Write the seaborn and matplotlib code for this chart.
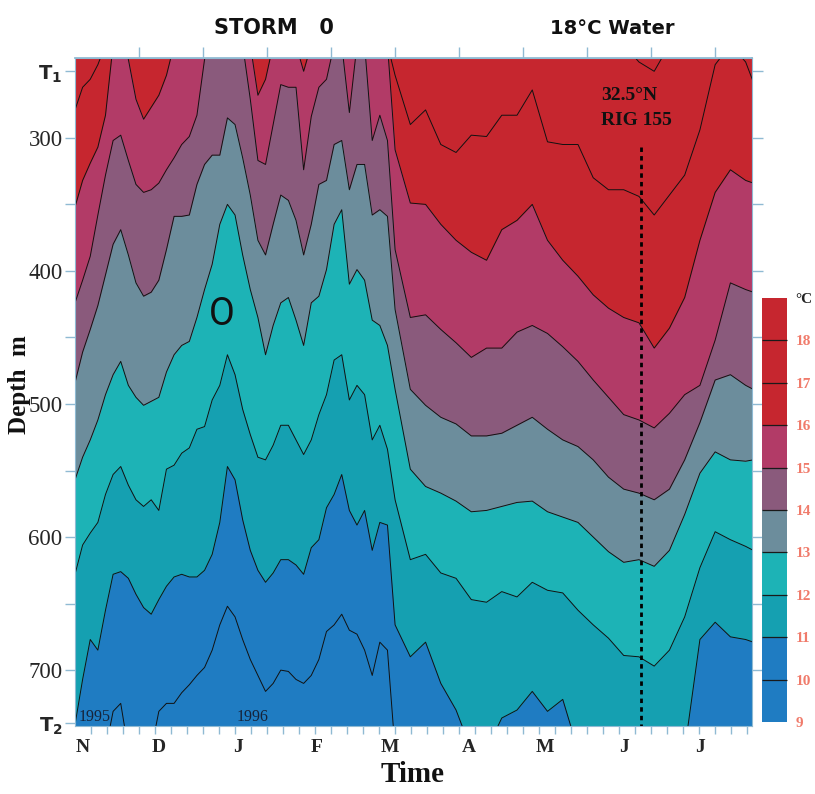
import numpy as np
import pandas as pd
import matplotlib
matplotlib.use("Agg")
import matplotlib.pyplot as plt
import seaborn as sns
from matplotlib.colors import ListedColormap, BoundaryNorm
from matplotlib.cm import ScalarMappable

# ---------------- data ----------------
# time: days after 29 Oct 1995 ; depth of each isotherm in metres
# (230 = isotherm above the plotted range, 760 = below the plotted range)
days = [0, 3, 6, 9, 12, 15, 18, 21, 24, 27, 30, 33, 36, 39, 42, 45, 48, 51,
        54, 57, 60, 63, 66, 69, 72, 75, 78, 81, 84, 87, 90, 93, 96, 99, 102,
        105, 108, 111, 114, 117, 120, 123, 126, 132, 138, 144, 150, 156, 162,
        168, 174, 180, 186, 192, 198, 204, 210, 216, 222, 228, 234, 240, 246,
        252, 258, 264, 267]

iso18 = [230, 230, 230, 230, 230, 230, 230, 230, 230, 230, 230, 230, 230, 230,
         230, 230, 230, 230, 230, 230, 230, 230, 230, 230, 230, 230, 230, 230,
         230, 230, 230, 230, 230, 230, 230, 230, 230, 230, 230, 230, 230, 230,
         230, 230, 230, 230, 230, 230, 230, 230, 230, 230, 230, 230, 230, 230,
         230, 230, 243, 250, 230, 230, 230, 230, 230, 230, 230]

iso17 = [279, 262, 256, 245, 230, 230, 230, 230, 230, 230, 230, 230, 230, 230,
         230, 230, 230, 230, 230, 230, 230, 230, 230, 230, 230, 230, 230, 230,
         230, 230, 230, 230, 230, 230, 230, 230, 230, 230, 230, 230, 230, 230,
         253, 290, 279, 305, 311, 298, 299, 283, 283, 264, 303, 305, 305, 330,
         339, 339, 344, 358, 343, 328, 294, 245, 230, 243, 258]

iso16 = [352, 332, 319, 307, 283, 230, 230, 241, 271, 286, 277, 268, 253, 230,
         230, 230, 230, 230, 230, 230, 230, 230, 230, 230, 268, 256, 230, 230,
         230, 230, 250, 230, 230, 230, 230, 230, 230, 230, 230, 230, 230, 230,
         309, 349, 350, 365, 377, 386, 392, 369, 362, 350, 377, 392, 404, 418,
         428, 435, 439, 458, 443, 420, 377, 341, 324, 332, 334]

iso15 = [424, 407, 389, 358, 328, 302, 298, 317, 335, 341, 339, 334, 324, 315,
         305, 299, 283, 241, 230, 230, 230, 230, 230, 271, 317, 320, 290, 260,
         262, 262, 324, 284, 262, 256, 230, 230, 281, 230, 230, 302, 283, 302,
         384, 435, 433, 444, 454, 465, 458, 458, 446, 441, 447, 457, 468, 482,
         495, 508, 512, 518, 507, 493, 486, 452, 409, 414, 416]

iso14 = [484, 461, 444, 426, 403, 380, 369, 388, 409, 419, 416, 407, 384, 359,
         359, 358, 335, 320, 313, 313, 285, 290, 315, 343, 377, 388, 365, 343,
         347, 362, 388, 365, 335, 332, 305, 302, 339, 320, 320, 358, 354, 359,
         429, 489, 501, 510, 515, 524, 524, 522, 516, 510, 519, 527, 532, 542,
         555, 564, 567, 572, 564, 542, 514, 482, 478, 486, 489]

iso13 = [557, 540, 527, 512, 493, 478, 468, 486, 495, 501, 498, 495, 476, 463,
         456, 453, 435, 414, 395, 365, 350, 358, 388, 414, 435, 463, 441, 424,
         420, 437, 456, 424, 419, 399, 365, 354, 410, 399, 407, 437, 441, 456,
         489, 549, 562, 567, 573, 581, 580, 577, 574, 573, 581, 585, 589, 600,
         611, 619, 617, 622, 610, 583, 552, 536, 542, 543, 542]

iso12 = [628, 606, 597, 589, 568, 553, 547, 561, 572, 577, 572, 580, 549, 546,
         537, 533, 519, 517, 497, 486, 463, 478, 504, 523, 540, 542, 531, 516,
         516, 527, 538, 527, 508, 493, 467, 463, 497, 486, 493, 527, 516, 534,
         572, 617, 613, 627, 631, 647, 649, 641, 645, 634, 640, 642, 655, 666,
         676, 689, 690, 697, 685, 660, 623, 596, 602, 607, 610]

iso11 = [741, 707, 677, 685, 655, 628, 626, 631, 643, 653, 658, 647, 637, 630,
         628, 630, 630, 625, 613, 589, 547, 557, 587, 610, 625, 634, 627, 617,
         617, 621, 628, 608, 602, 578, 568, 553, 580, 591, 580, 610, 589, 591,
         666, 690, 679, 710, 730, 760, 760, 736, 730, 716, 731, 722, 760, 760,
         760, 760, 760, 760, 760, 760, 677, 664, 675, 677, 679]

iso10 = [760, 760, 760, 760, 760, 731, 725, 760, 760, 760, 760, 731, 725, 725,
         717, 711, 704, 698, 685, 666, 652, 660, 677, 692, 704, 716, 710, 700,
         701, 707, 710, 704, 692, 671, 666, 658, 670, 673, 685, 704, 679, 685,
         760, 760, 760, 760, 760, 760, 760, 760, 760, 760, 760, 760, 760, 760,
         760, 760, 760, 760, 760, 760, 760, 760, 760, 760, 760]

levels = [9, 10, 11, 12, 13, 14, 15, 16, 17, 18, 19]
band_colors = ["#1f7cc2", "#1f7cc2", "#15a0b1", "#1db3b6", "#6c8d9c",
               "#8a5a7c", "#b23b67", "#c6262f", "#c6262f", "#c6262f"]

month_days = [3, 33, 64, 95, 124, 155, 185, 216, 246]
month_labels = ["N", "D", "J", "F", "M", "A", "M", "J", "J"]
depth_ticks = [250, 300, 400, 500, 600, 700, 740]
depth_labels = [r"$\mathbf{T_1}$", "300", "400", "500", "600", "700", r"$\mathbf{T_2}$"]
rig_day = 222.8

# ---------------- figure ----------------
sns.set_theme(style="white")
plt.rcParams["font.family"] = ["Liberation Serif", "DejaVu Sans"]
plt.rcParams["mathtext.fontset"] = "dejavusans"

fig = plt.figure(figsize=(8.15, 7.94), dpi=100)
fig.patch.set_facecolor("white")
ax = fig.add_axes([75 / 815, 1 - 726 / 794, 677 / 815, 668 / 794])

isos = {10: iso10, 11: iso11, 12: iso12, 13: iso13, 14: iso14,
        15: iso15, 16: iso16, 17: iso17, 18: iso18}

ax.set_facecolor(band_colors[0])
for T, vals in isos.items():
    ax.fill_between(days, 200, vals, color=band_colors[T - 9], lw=0, zorder=1)

rows = [(d, v, T) for T, vals in isos.items() for d, v in zip(days, vals)]
df = pd.DataFrame(rows, columns=["day", "depth", "iso"])
sns.lineplot(data=df, x="day", y="depth", units="iso", estimator=None,
             color="#111111", linewidth=0.7, ax=ax, legend=False, sort=False,
             zorder=2)

ax.set_xlim(0, 266.5)
ax.set_ylim(742, 240)
ax.set_xlabel("")
ax.set_ylabel("")

tick_col = "#8fbad3"
for s in ax.spines.values():
    s.set_color(tick_col)
    s.set_linewidth(0.8)

# y axis
ax.set_yticks(depth_ticks)
ax.set_yticklabels(depth_labels)
ax.set_yticks([350, 450, 550, 650], minor=True)
ax.tick_params(axis="y", which="both", left=True, right=False, direction="out",
               length=7, width=1, color=tick_col, pad=2, labelsize=16.5)
for lbl in ax.get_yticklabels():
    if "T" in lbl.get_text():
        lbl.set_fontsize(14)

# x axis
ax.set_xticks(month_days)
ax.set_xticklabels(month_labels)
ax.set_xticks(np.arange(6.3, 266, 6.3), minor=True)
ax.tick_params(axis="x", which="major", bottom=True, length=0, pad=9,
               labelsize=14)
ax.tick_params(axis="x", which="minor", bottom=True, top=False, direction="out",
               length=6, width=1, color=tick_col)
for lbl in ax.get_xticklabels():
    lbl.set_fontweight("bold")

secx = ax.secondary_xaxis("top")
secx.set_xticks(np.arange(25.2, 266, 25.2))
secx.set_xticklabels([])
secx.tick_params(direction="out", length=8, width=1, color=tick_col)
secx.spines["top"].set_color(tick_col)

secy = ax.secondary_yaxis("right")
secy.set_yticks(np.arange(250, 701, 50))
secy.set_yticklabels([])
secy.tick_params(direction="out", length=8, width=1, color=tick_col)
secy.spines["right"].set_color(tick_col)

# annotations
ax.plot([rig_day, rig_day], [307, 742], color="black", lw=2.0,
        linestyle=(0, (1.6, 1.5)), zorder=4)
ax.text(207, 268, "32.5°N", fontsize=14, fontweight="bold", ha="left",
        va="center", color="#111111", zorder=5)
ax.text(207, 287, "RIG 155", fontsize=14, fontweight="bold", ha="left",
        va="center", color="#111111", zorder=5)
ax.text(57.9, 433, "O", fontsize=27, family="Roboto", ha="center", va="center",
        color="#111111", zorder=5)
ax.text(1.3, 735, "1995", fontsize=11.5, ha="left", va="center",
        color="#16233a", zorder=5)
ax.text(63.8, 735, "1996", fontsize=11.5, ha="left", va="center",
        color="#16233a", zorder=5)

fig.text(274 / 815, 1 - 28 / 794, "STORM   0", family="DejaVu Sans",
         fontweight="bold", fontsize=15, ha="center", va="center",
         color="#111111")
fig.text(612 / 815, 1 - 28 / 794, "18°C Water", family="DejaVu Sans",
         fontweight="bold", fontsize=14, ha="center", va="center",
         color="#111111")
fig.text(20 / 815, 1 - 385 / 794, "Depth  m", rotation=90, fontsize=18,
         fontweight="bold", ha="center", va="center", color="#111111")
fig.text(413 / 815, 1 - 775 / 794, "Time", fontsize=21, fontweight="bold",
         ha="center", va="center", color="#111111")

# colour bar
cmap = ListedColormap(sns.color_palette(band_colors))
norm = BoundaryNorm(levels, cmap.N)
cax = fig.add_axes([762 / 815, 1 - 722 / 794, 25 / 815, 424 / 794])
cb = fig.colorbar(ScalarMappable(norm=norm, cmap=cmap), cax=cax, ticks=levels,
                  drawedges=True)
cb.outline.set_linewidth(0)
cb.dividers.set_color("#1a1a1a")
cb.dividers.set_linewidth(0.9)
cax.tick_params(length=0, pad=6)
cax.set_yticklabels([str(v) for v in levels[:-1]] + ["°C"])
for lbl in cax.get_yticklabels():
    lbl.set_fontsize(11)
    lbl.set_fontweight("bold")
    lbl.set_color("#f07b6b")
cax.get_yticklabels()[-1].set_color("#222222")

fig.savefig("out.png", dpi=100)
